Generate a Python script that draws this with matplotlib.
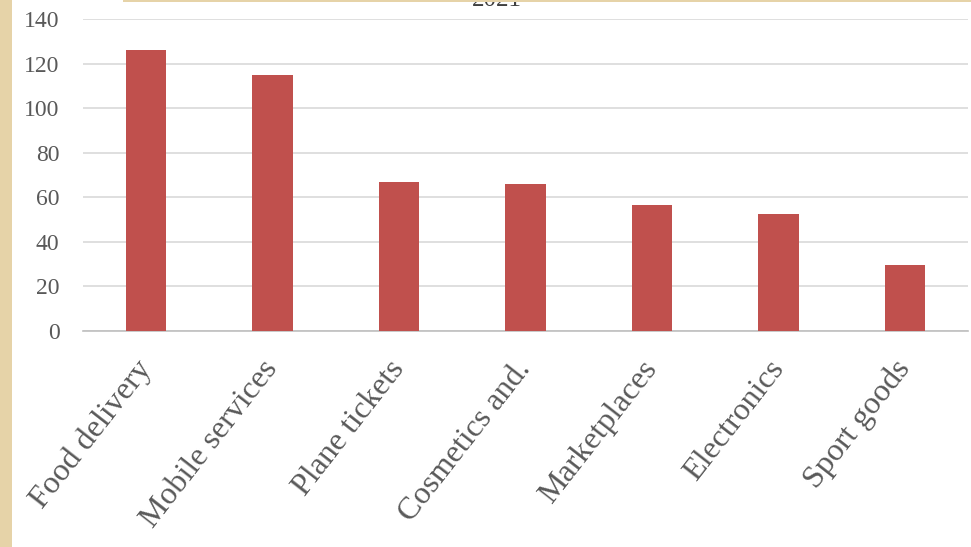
import matplotlib
matplotlib.use("Agg")
import matplotlib.pyplot as plt
from matplotlib.patches import Rectangle

categories = ["Food delivery", "Mobile services", "Plane tickets", "Cosmetics and.",
              "Marketplaces", "Electronics", "Sport goods"]
values = [126, 115, 67, 66, 56.5, 52.5, 29.5]
y_ticks = [0, 20, 40, 60, 80, 100, 120, 140]
title = "2021"

BAR = "#C0504D"
GRID = "#D9D9D9"
TEXT = "#595959"
PARCHMENT = "#E6D3A8"
SERIF = ["Liberation Serif", "DejaVu Serif"]

fig = plt.figure(figsize=(9.71, 5.47), dpi=100)
fig.patch.set_facecolor("white")

# parchment border strips
fig.patches.append(Rectangle((0, 0), 12 / 971, 1, transform=fig.transFigure,
                             facecolor=PARCHMENT, edgecolor="none", zorder=1))
fig.patches.append(Rectangle((123 / 971, 1 - 2 / 547), 1, 2 / 547,
                             transform=fig.transFigure,
                             facecolor=PARCHMENT, edgecolor="none", zorder=1))

ax = fig.add_axes([83 / 971, 1 - 331 / 547, (968 - 83) / 971, (331 - 19) / 547])
x = range(len(categories))
ax.bar(x, values, width=0.32, color=BAR, zorder=3)

ax.set_ylim(0, 140)
ax.set_xlim(-0.5, len(categories) - 0.5)
ax.set_yticks(y_ticks)
ax.set_yticklabels([str(t) for t in y_ticks], family=SERIF, fontsize=17, color=TEXT)
ax.set_xticks(list(x))
ax.set_xticklabels(categories, family=SERIF, fontsize=23, color=TEXT,
                   rotation=52, ha="right", va="center", rotation_mode="anchor")
ax.tick_params(axis="y", length=0, pad=17)
ax.tick_params(axis="x", length=0, pad=24)

ax.yaxis.grid(True, color=GRID, linewidth=1.2, zorder=0)
ax.set_axisbelow(True)
for side in ("top", "right", "left"):
    ax.spines[side].set_visible(False)
ax.spines["bottom"].set_color("#BFBFBF")
ax.spines["bottom"].set_linewidth(1.2)

fig.text(497 / 971, 1 - 6 / 547, title, ha="center", va="baseline",
         family=SERIF, fontsize=18, color="#404040", zorder=0.5)

fig.savefig("out.png", dpi=100)
